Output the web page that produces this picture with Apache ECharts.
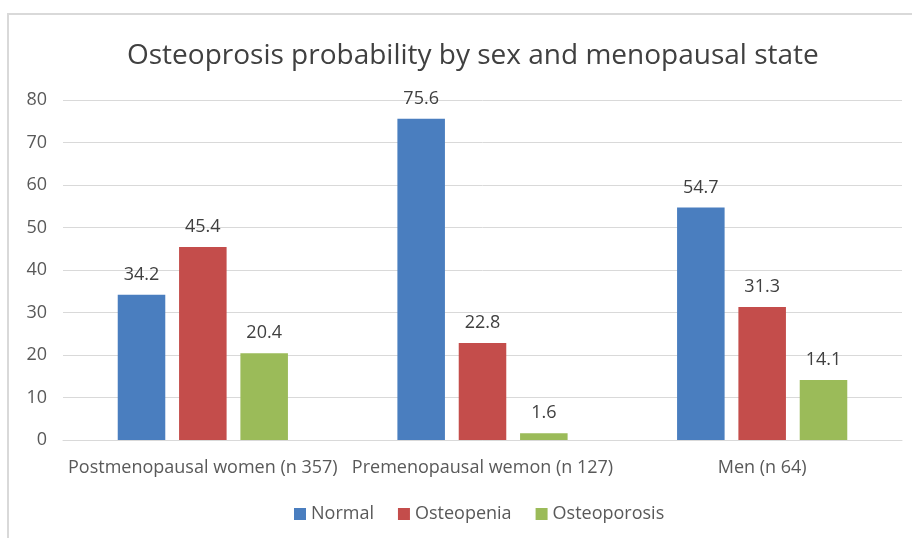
<!DOCTYPE html>
<html>
<head>
<meta charset="utf-8">
<script src="https://cdn.jsdelivr.net/npm/echarts@6/dist/echarts.min.js"></script>
<style>
  html, body { margin: 0; padding: 0; background: #fff; }
  #chart { width: 912px; height: 538px; }
</style>
</head>
<body>
<div id="chart"></div>
<script>
  // 类别与数据
  const categories = ['Postmenopausal women (n 357)', 'Premenopausal wemon (n 127)', 'Men (n 64)'];
  const normalData = [34.2, 75.6, 54.7];
  const osteopeniaData = [45.4, 22.8, 31.3];
  const osteoporosisData = [20.4, 1.6, 14.1];
  const yTicks = [0, 10, 20, 30, 40, 50, 60, 70, 80];

  const fontFamily = '"Open Sans", "Noto Sans", sans-serif';
  const colorList = ['#4a7ebf', '#c44d4b', '#9bbb59'];

  const chart = echarts.init(document.getElementById('chart'));

  function makeSeries(name, data, color) {
    return {
      name: name,
      type: 'bar',
      data: data,
      barWidth: '17%',
      barGap: '29%',
      itemStyle: { color: color },
      label: {
        show: true,
        position: 'top',
        distance: 11,
        color: '#404040',
        fontSize: 18,
        fontFamily: fontFamily
      }
    };
  }

  chart.setOption({
    animation: false,
    title: {
      text: 'Osteoprosis probability by sex and menopausal state',
      left: 122,
      top: 37,
      textStyle: {
        color: '#404040',
        fontSize: 28,
        fontWeight: 'normal',
        fontFamily: fontFamily
      }
    },
    legend: {
      bottom: 10,
      left: 289,
      itemWidth: 12,
      itemHeight: 12,
      itemGap: 24,
      icon: 'rect',
      textStyle: { color: '#595959', fontSize: 18, fontFamily: fontFamily },
      data: ['Normal', 'Osteopenia', 'Osteoporosis']
    },
    grid: {
      left: 63,
      right: 10,
      top: 100,
      bottom: 98
    },
    xAxis: {
      type: 'category',
      data: categories,
      axisTick: { show: false },
      axisLine: { lineStyle: { color: '#d9d9d9', width: 1 } },
      axisLabel: {
        color: '#595959',
        fontSize: 18,
        fontFamily: fontFamily,
        interval: 0,
        margin: 19
      }
    },
    yAxis: {
      type: 'value',
      min: yTicks[0],
      max: yTicks[yTicks.length - 1],
      interval: 10,
      axisLine: { show: false },
      axisTick: { show: false },
      axisLabel: {
        color: '#595959',
        fontSize: 18,
        fontFamily: fontFamily,
        margin: 16
      },
      splitLine: { lineStyle: { color: '#d9d9d9', width: 1 } }
    },
    graphic: [{
      type: 'rect',
      shape: { x: 8, y: 14, width: 940, height: 560 },
      style: { fill: 'none', stroke: '#d9d9d9', lineWidth: 2 },
      silent: true
    }],
    series: [
      makeSeries('Normal', normalData, colorList[0]),
      makeSeries('Osteopenia', osteopeniaData, colorList[1]),
      makeSeries('Osteoporosis', osteoporosisData, colorList[2])
    ]
  });
</script>
</body>
</html>
